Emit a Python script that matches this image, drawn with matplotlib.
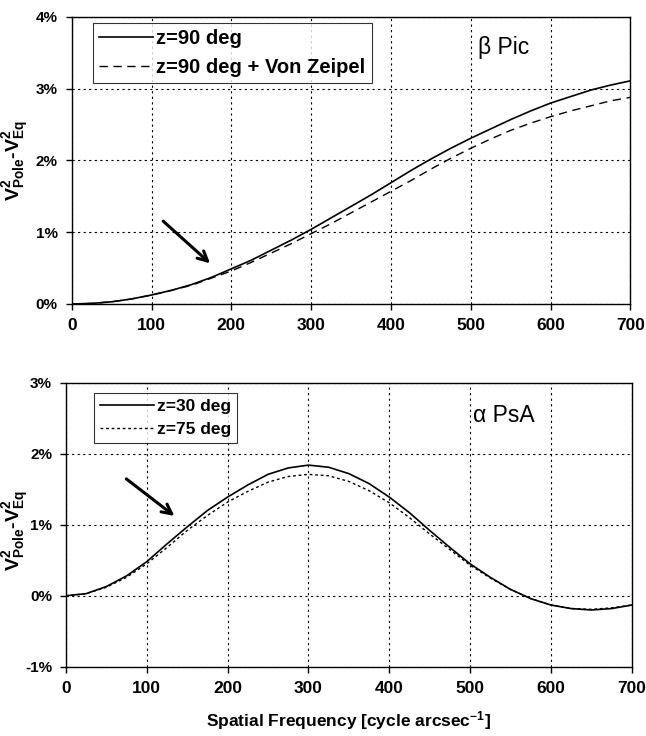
import matplotlib
matplotlib.use("Agg")
import matplotlib.pyplot as plt
from matplotlib.ticker import FuncFormatter, MultipleLocator

FAM = "Liberation Sans"
plt.rcParams['font.family'] = [FAM, 'DejaVu Sans']
plt.rcParams['mathtext.fontset'] = 'custom'
plt.rcParams['mathtext.rm'] = FAM
plt.rcParams['mathtext.bf'] = FAM + ':bold'
plt.rcParams['mathtext.it'] = FAM + ':italic'

# ---- data: top panel (beta Pic) ----
freq = [0, 25, 50, 75, 100, 125, 150, 175, 200, 225, 250, 275, 300, 325, 350,
        375, 400, 425, 450, 475, 500, 525, 550, 575, 600, 625, 650, 675, 700]
bpic_z90 = [0, 0.008, 0.03, 0.07, 0.125, 0.19, 0.27, 0.37, 0.49, 0.61, 0.75, 0.89,
            1.04, 1.20, 1.36, 1.52, 1.69, 1.86, 2.02, 2.17, 2.31, 2.44, 2.57, 2.69,
            2.80, 2.89, 2.98, 3.05, 3.11]
bpic_z90_vz = [0, 0.008, 0.03, 0.07, 0.125, 0.19, 0.26, 0.36, 0.46, 0.58, 0.71, 0.84,
               0.98, 1.12, 1.27, 1.42, 1.57, 1.72, 1.88, 2.03, 2.17, 2.30, 2.42, 2.52,
               2.61, 2.69, 2.76, 2.83, 2.88]
# ---- data: bottom panel (alpha PsA) ----
apsa_z30 = [0, 0.03, 0.13, 0.28, 0.48, 0.73, 0.97, 1.20, 1.39, 1.56, 1.71, 1.80,
            1.84, 1.81, 1.72, 1.58, 1.39, 1.17, 0.92, 0.68, 0.45, 0.26, 0.09, -0.04,
            -0.13, -0.18, -0.20, -0.18, -0.13]
apsa_z75 = [0, 0.03, 0.12, 0.26, 0.45, 0.68, 0.92, 1.13, 1.32, 1.47, 1.60, 1.68,
            1.71, 1.69, 1.61, 1.48, 1.31, 1.10, 0.87, 0.65, 0.43, 0.25, 0.09, -0.04,
            -0.13, -0.18, -0.19, -0.17, -0.13]

xticks = [0, 100, 200, 300, 400, 500, 600, 700]
top_labels = ["z=90 deg", "z=90 deg + Von Zeipel"]
bot_labels = ["z=30 deg", "z=75 deg"]

fig = plt.figure(figsize=(6.46, 7.36), dpi=100)
ax1 = fig.add_axes([0.111, 0.587, 0.865, 0.390])
ax2 = fig.add_axes([0.102, 0.094, 0.876, 0.386])

pct = FuncFormatter(lambda v, p: f"{v:.0f}%")
ylab = r'$\mathbf{V^{2}_{Pole}}$-$\mathbf{V^{2}_{Eq}}$'

for ax in (ax1, ax2):
    ax.set_xlim(0, 700)
    ax.set_xticks(xticks)
    ax.yaxis.set_major_locator(MultipleLocator(1))
    ax.yaxis.set_major_formatter(pct)
    ax.grid(True, color='black', linestyle=(0, (2, 3)), linewidth=0.8)
    ax.set_axisbelow(True)
    for s in ax.spines.values():
        s.set_linewidth(1.0)
    ax.tick_params(direction='out', length=4, width=1, pad=6)
    for lab in ax.get_xticklabels():
        lab.set_fontsize(12.5); lab.set_fontweight('bold')
    for lab in ax.get_yticklabels():
        lab.set_fontsize(11); lab.set_fontweight('bold')
    ax.set_ylabel(ylab, fontsize=14, fontweight='bold')

ax1.yaxis.set_label_coords(-0.072, 0.5)
ax2.yaxis.set_label_coords(-0.061, 0.48)

# top
ax1.set_ylim(0, 4)
ax1.plot(freq, bpic_z90, color='black', lw=1.2, label=top_labels[0])
ax1.plot(freq, bpic_z90_vz, color='black', lw=1.0, ls=(0, (6, 4)), label=top_labels[1])
leg1 = ax1.legend(loc='upper left', bbox_to_anchor=(0.038, 0.978), frameon=True,
                  fancybox=False, edgecolor='black', prop={'weight': 'bold', 'size': 14.5},
                  handlelength=2.7, handletextpad=0.15, borderpad=0.3, labelspacing=0.5,
                  borderaxespad=0)
leg1.get_frame().set_linewidth(0.8)
ax1.text(509, 3.57, 'β Pic', fontsize=16.5, ha='left', va='center')
ax1.annotate('', xy=(176, 0.54), xytext=(112, 1.18),
             arrowprops=dict(arrowstyle='->,head_length=0.7,head_width=0.35',
                             lw=2.2, color='black'))

# bottom
ax2.set_ylim(-1, 3)
ax2.plot(freq, apsa_z30, color='black', lw=1.2, label=bot_labels[0])
ax2.plot(freq, apsa_z75, color='black', lw=1.0, ls=(0, (2, 2)), label=bot_labels[1])
leg2 = ax2.legend(loc='upper left', bbox_to_anchor=(0.050, 0.965), frameon=True,
                  fancybox=False, edgecolor='black', prop={'weight': 'bold', 'size': 12.5},
                  handlelength=3.1, handletextpad=0.15, borderpad=0.35, labelspacing=0.45,
                  borderaxespad=0)
leg2.get_frame().set_linewidth(0.8)
ax2.text(503, 2.54, 'α PsA', fontsize=16.5, ha='left', va='center')
ax2.annotate('', xy=(137, 1.10), xytext=(72, 1.67),
             arrowprops=dict(arrowstyle='->,head_length=0.7,head_width=0.35',
                             lw=2.2, color='black'))
ax2.set_xlabel(r'Spatial Frequency [cycle arcsec$^{\mathbf{-1}}$]', fontsize=12.5,
               fontweight='bold', labelpad=10)

fig.savefig('out.png', dpi=100)
